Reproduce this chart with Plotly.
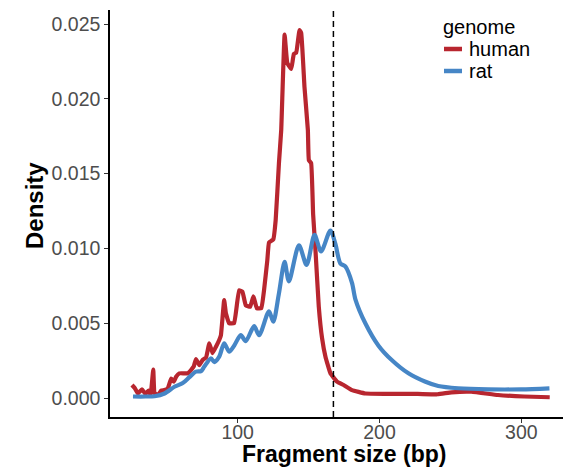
import plotly.graph_objects as go

# ---- data ----
human_x = [25.5, 27.4, 29.7, 32.5, 34.9, 37.2, 38.6, 40.5, 41.4, 43.7, 46.1, 48.4, 50.8, 53.1, 55, 56.6,
           58.9, 62, 64.8, 67.1, 69, 70.6, 73, 75.3, 77.7, 80, 82.3, 84.7, 87, 88.2, 90.5, 91.7, 94, 97.5,
           101, 103.4, 105.7, 108.8, 111.1, 113.5, 116.7, 118.6, 120.9, 122.1, 125.1, 126.8, 129.1, 130.7,
           133.1, 135, 137.8, 139.6, 141.3, 143.6, 144.8, 147.1, 149.5, 150.2, 151.8, 153.2, 154.9, 157.2,
           159.5, 161.9, 165.4, 170, 174.7, 180.6, 190, 204, 227, 241, 250.8, 264.8, 283.5, 302, 320]
human_y = [0.00087, 0.00067, 0.0003, 0.00058, 0.00027, 0.00049, 0.0002, 0.0019, 0.00033, 0.0002, 0.00049,
           0.00053, 0.00065, 0.0013, 0.0011, 0.00142, 0.00165, 0.00165, 0.00165, 0.00187, 0.0021, 0.0026,
           0.0022, 0.00254, 0.0027, 0.00366, 0.003, 0.00343, 0.00388, 0.0042, 0.00655, 0.00566, 0.005, 0.005,
           0.0072, 0.0071, 0.0062, 0.0061, 0.0068, 0.006, 0.006, 0.0072, 0.0092, 0.0104, 0.0106, 0.0119,
           0.0157, 0.0179, 0.0243, 0.0224, 0.0220, 0.0230, 0.0231, 0.0246, 0.0244, 0.0208, 0.0179, 0.0159,
           0.0157, 0.0123, 0.0098, 0.0061, 0.0040, 0.00276, 0.00165, 0.0011, 0.00087, 0.00053, 0.0003,
           0.00027, 0.00027, 0.00025, 0.00038, 0.00042, 0.0002, 0.0001, 0.00005]

rat_x = [26.2, 35, 41.4, 48.4, 55.4, 61.3, 66, 70.6, 74.2, 76.5, 81.2, 83.5, 87, 90.5, 94, 97.5, 102.2,
         105.7, 111.6, 115.1, 122.1, 125.1, 129.1, 133.1, 136.1, 143.2, 148.6, 154.2, 158.8, 165.4, 168.9,
         172.4, 175.9, 180.6, 183, 190, 199.3, 208.6, 220.4, 232, 241.4, 255.4, 276.5, 299.9, 319.8]
rat_y = [0.0001, 0.0001, 0.00012, 0.0003, 0.00075, 0.001, 0.0014, 0.00176, 0.0018, 0.0021, 0.00265, 0.0024,
         0.00276, 0.00366, 0.0031, 0.0035, 0.0042, 0.0038, 0.0048, 0.0042, 0.0058, 0.0051, 0.007, 0.0091,
         0.0078, 0.0102, 0.0089, 0.0109, 0.0098, 0.0112, 0.0103, 0.009, 0.0088, 0.0077, 0.0066, 0.005,
         0.0035, 0.00254, 0.00165, 0.0011, 0.0008, 0.00065, 0.00058, 0.00058, 0.00065]

cutoff_x = 167.5
x_ticks = [100, 200, 300]
y_ticks = [0.000, 0.005, 0.010, 0.015, 0.020, 0.025]
y_tick_labels = ["0.000", "0.005", "0.010", "0.015", "0.020", "0.025"]
series_names = ["human", "rat"]
legend_title = "genome"
x_title = "Fragment size (bp)"
y_title = "Density"

RED = "#B8262F"
BLUE = "#4686C6"
colors = [RED, BLUE]
FONT = "Liberation Sans, Arial, Helvetica, sans-serif"

fig = go.Figure()
fig.add_trace(go.Scatter(x=human_x, y=human_y, mode="lines", name=series_names[0], showlegend=False,
                         line=dict(color=RED, width=4.2, shape="spline", smoothing=0.3)))
fig.add_trace(go.Scatter(x=rat_x, y=rat_y, mode="lines", name=series_names[1], showlegend=False,
                         line=dict(color=BLUE, width=4.2, shape="spline", smoothing=0.8)))

fig.add_shape(type="line", x0=cutoff_x, x1=cutoff_x, y0=0, y1=1, xref="x", yref="paper",
              line=dict(color="black", width=1.5, dash="6px,4px"))

# page offset: the html body has an 8px margin
OFF = 8
PL, PR, PT, PB = 110, 571, 10, 417  # plot area in page pixels
PW = float(PR - PL)
PH = float(PB - PT)
def px_x(p):
    return (p - PL) / PW
def px_y(p):
    return (PB - p) / PH

# legend (drawn in paper space, ggplot style)
fig.add_annotation(text=legend_title, x=px_x(441), y=px_y(27), xref="paper", yref="paper",
                   xanchor="left", yanchor="middle", showarrow=False,
                   font=dict(size=20, color="black", family=FONT))
for i, (nm, col) in enumerate(zip(series_names, colors)):
    yy = 49 + 22 * i
    fig.add_shape(type="line", xref="paper", yref="paper", x0=px_x(444), x1=px_x(462),
                  y0=px_y(yy), y1=px_y(yy), line=dict(color=col, width=4.5))
    fig.add_annotation(text=nm, x=px_x(467), y=px_y(yy), xref="paper", yref="paper",
                       xanchor="left", yanchor="middle", showarrow=False,
                       font=dict(size=20, color="black", family=FONT))

# axis titles
fig.add_annotation(text="<b>" + x_title + "</b>", x=px_x(344), y=0, yshift=-37, xref="paper", yref="paper",
                   xanchor="center", yanchor="middle", showarrow=False,
                   font=dict(size=23, color="black", family=FONT))
fig.add_annotation(text="<b>" + y_title + "</b>", x=0, xshift=-76, y=px_y(206), xref="paper", yref="paper",
                   xanchor="center", yanchor="middle", textangle=-90, showarrow=False,
                   font=dict(size=24, color="black", family=FONT))

fig.update_layout(
    width=571 - OFF, height=468 - OFF,
    margin=dict(l=PL - OFF, r=0, t=PT - OFF, b=468 - PB),
    plot_bgcolor="white", paper_bgcolor="white",
    font=dict(family=FONT, color="#4D4D4D", size=20),
    showlegend=False,
)
fig.update_xaxes(range=[10, 335], tickvals=x_ticks, showline=True, linecolor="black", linewidth=1.5,
                 ticks="outside", ticklen=4, tickcolor="#333333", showgrid=False, zeroline=False,
                 tickfont=dict(size=19.5, color="#4D4D4D"), automargin=False, ticklabelstandoff=-7)
fig.update_yaxes(range=[-0.00127, 0.02594], tickvals=y_ticks, ticktext=y_tick_labels, showline=True,
                 linecolor="black", linewidth=1.5, ticks="outside", ticklen=4, tickcolor="#333333",
                 showgrid=False, zeroline=False, tickfont=dict(size=19.5, color="#4D4D4D"), automargin=False)

fig.write_html("out.html")
